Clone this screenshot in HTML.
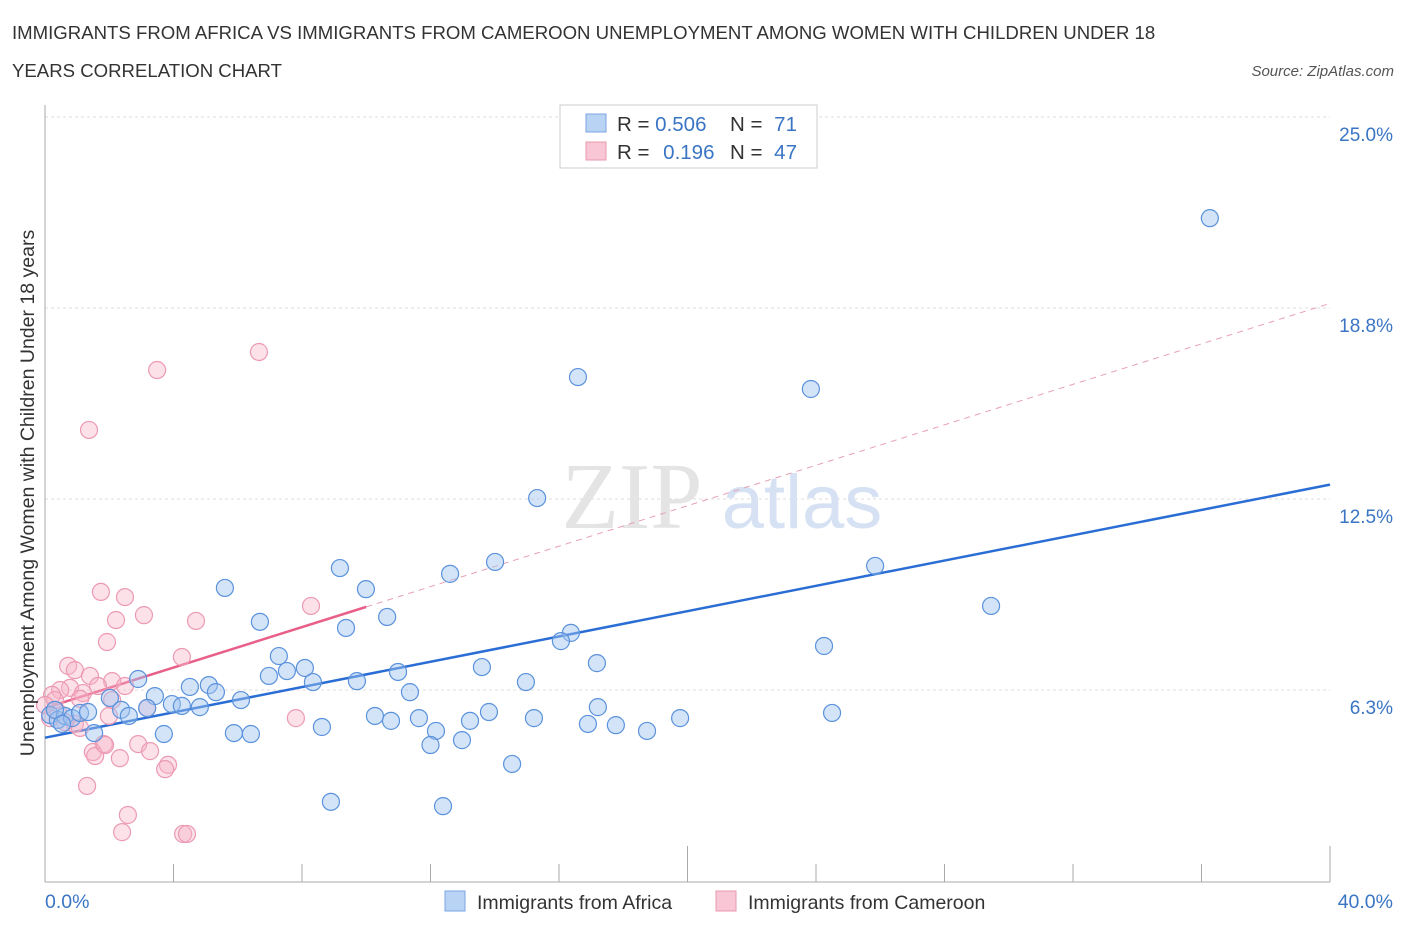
<!DOCTYPE html>
<html><head><meta charset="utf-8"><style>
body{margin:0;background:#fff;font-family:"Liberation Sans",sans-serif}
svg{display:block}
</style></head><body>
<svg id="chart" width="1406" height="930">
<text x="12" y="39" font-size="18.6" fill="#333">IMMIGRANTS FROM AFRICA VS IMMIGRANTS FROM CAMEROON UNEMPLOYMENT AMONG WOMEN WITH CHILDREN UNDER 18</text>
<text x="12" y="77" font-size="18.6" fill="#333">YEARS CORRELATION CHART</text>
<text x="1394" y="76" font-size="15" fill="#555" font-style="italic" text-anchor="end">Source: ZipAtlas.com</text>
<g id="grid"></g>
<text x="632" y="528" font-size="94" fill="#e4e4e4" font-family="Liberation Serif" text-anchor="middle">ZIP</text>
<text x="802" y="528" font-size="76" fill="#d6e2f3" text-anchor="middle">atlas</text>
<g id="lines"></g>
<g id="points"></g>
<text x="34" y="493" font-size="19.5" fill="#333" text-anchor="middle" transform="rotate(-90 34 493)">Unemployment Among Women with Children Under 18 years</text>
<text x="45" y="908" font-size="19.5" fill="#3a75c4">0.0%</text>
<text x="1393" y="908" font-size="19.5" fill="#3a75c4" text-anchor="end">40.0%</text>
<g>
<rect x="560" y="105" width="257" height="63" fill="#fff" stroke="#ccc"/>
<rect x="586" y="114" width="20" height="18" fill="#b9d3f5" stroke="#7aa6e0"/>
<rect x="586" y="142" width="20" height="18" fill="#f8c6d4" stroke="#e89ab0"/>
<text x="617" y="131" font-size="20.5" fill="#333">R = <tspan fill="#3a75c4">0.506</tspan></text>
<text x="730" y="131" font-size="20.5" fill="#333">N = <tspan fill="#3a75c4" dx="6">71</tspan></text>
<text x="617" y="159" font-size="20.5" fill="#333">R = <tspan fill="#3a75c4" dx="8">0.196</tspan></text>
<text x="730" y="159" font-size="20.5" fill="#333">N = <tspan fill="#3a75c4" dx="6">47</tspan></text>
</g>
<g>
<rect x="445" y="891" width="20" height="20" fill="#b9d3f5" stroke="#7aa6e0"/>
<text x="477" y="909" font-size="19.5" fill="#333">Immigrants from Africa</text>
<rect x="716" y="891" width="20" height="20" fill="#f8c6d4" stroke="#e89ab0"/>
<text x="748" y="909" font-size="19.5" fill="#333">Immigrants from Cameroon</text>
</g>
</svg>
<script>
const yTicks=[6.25,12.5,18.75,25];
const yTickLabels=["6.3%","12.5%","18.8%","25.0%"];
const africaX=[36.26,16.59,23.84,15.32,25.84,9.18,14.01,12.61,9.99,5.60,29.45,6.69,10.65,9.37,16.37,16.06,24.25,7.28,17.18,13.60,8.09,7.53,10.99,6.97,2.90,8.34,9.71,14.97,5.10,4.51,5.32,11.36,3.42,6.10,2.02,3.95,4.26,4.82,2.37,3.18,17.21,24.50,13.82,10.27,2.61,19.77,15.22,11.64,10.77,13.23,16.90,17.77,8.62,18.74,12.17,5.88,6.41,3.70,1.53,12.00,12.98,14.54,8.90,12.39,0.16,0.40,0.62,0.84,1.09,1.34,0.31,0.53];
const africaY=[21.69,16.49,16.10,12.53,10.31,10.24,10.44,10.05,9.55,9.59,9.00,8.48,8.64,8.28,8.12,7.85,7.69,7.36,7.13,7.00,6.97,6.87,6.84,6.71,6.61,6.51,6.54,6.51,6.41,6.35,6.18,6.18,6.05,5.92,5.99,5.79,5.73,5.69,5.60,5.66,5.69,5.50,5.53,5.40,5.40,5.33,5.33,5.33,5.24,5.24,5.14,5.10,5.04,4.91,4.91,4.84,4.81,4.81,4.84,4.45,4.61,3.83,2.59,2.45,5.43,5.27,5.40,5.33,5.50,5.53,5.60,5.14];
const camX=[6.66,3.49,1.37,1.74,2.49,8.28,3.08,2.21,4.70,1.93,4.26,0.72,0.93,1.40,2.09,1.65,2.49,0.78,0.47,1.18,0.22,1.09,1.99,3.18,7.81,0.40,0.16,0.62,0.93,1.09,1.83,2.90,1.49,2.33,3.27,1.56,3.83,3.74,1.31,2.58,2.40,4.30,4.42,2.09,1.87,0.31,0.0];
const camY=[17.31,16.72,14.76,9.46,9.29,9.00,8.70,8.54,8.51,7.82,7.33,7.04,6.90,6.71,6.54,6.38,6.38,6.32,6.25,6.15,6.09,5.96,5.40,5.66,5.33,5.53,5.33,5.20,5.14,5.01,4.48,4.48,4.22,4.02,4.25,4.09,3.80,3.66,3.11,2.16,1.60,1.54,1.54,5.92,4.45,5.92,5.76];
const africaFit=[4.69,12.97];
const camFit=[5.66,0.331];
const xTicks=[0,4,8,12,16,20,24,28,32,36,40];
const NS="http://www.w3.org/2000/svg";
const X=v=>45+v*32.125, Y=v=>881-v*30.56;
function mk(tag,attrs,parent){const e=document.createElementNS(NS,tag);for(const k in attrs)e.setAttribute(k,attrs[k]);parent.appendChild(e);return e;}
const grid=document.getElementById('grid'),lines=document.getElementById('lines'),pts=document.getElementById('points');
yTicks.forEach((t,i)=>{
 const l=mk('line',{x1:45,y1:Y(t),x2:1330,y2:Y(t),stroke:'#ddd','stroke-dasharray':'3,3'},grid);
 
 
 const tx=mk('text',{x:1393,y:Y(t)+24,'font-size':19,fill:'#3a75c4','text-anchor':'end'},grid);
 tx.textContent=yTickLabels[i];
 
 
});
const ax=mk('line',{x1:45,y1:105,x2:45,y2:882,stroke:'#aaa'},grid);


const bx=mk('line',{x1:45,y1:882,x2:1330,y2:882,stroke:'#aaa'},grid);


xTicks.forEach(t=>{const l=mk('line',{x1:X(t),y1:882,x2:X(t),y2:(t===20||t===40)?846:864,stroke:'#aaa'},grid);
 
 });
let l1=mk('line',{x1:X(0),y1:Y(africaFit[0]),x2:X(40),y2:Y(africaFit[1]),stroke:'#2a6dd4','stroke-width':2.5},lines);


let l2=mk('line',{x1:X(0),y1:Y(camFit[0]),x2:X(10),y2:Y(camFit[0]+camFit[1]*10),stroke:'#e8608a','stroke-width':2.5},lines);


let l3=mk('line',{x1:X(10),y1:Y(camFit[0]+camFit[1]*10),x2:X(40),y2:Y(camFit[0]+camFit[1]*40),stroke:'#e8a0b5','stroke-width':1,'stroke-dasharray':'6,5'},lines);


camX.forEach((x,i)=>{const c=mk('circle',{cx:X(x),cy:Y(camY[i]),r:8.5,fill:'rgba(248,180,200,0.4)',stroke:'#ec9ab3','stroke-width':1.2},pts);
 
 });
africaX.forEach((x,i)=>{const c=mk('circle',{cx:X(x),cy:Y(africaY[i]),r:8.5,fill:'rgba(160,196,240,0.45)',stroke:'#5a92dc','stroke-width':1.2},pts);
 
 });
</script>
</body></html>
